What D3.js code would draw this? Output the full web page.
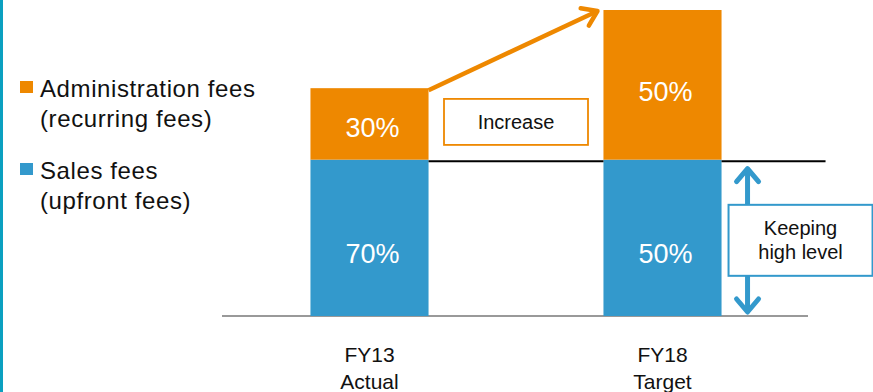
<!DOCTYPE html>
<html>
<head>
<meta charset="utf-8">
<script src="https://cdn.jsdelivr.net/npm/d3@7"></script>
<style>
  body { margin: 0; background: #fff; }
  svg { display: block; font-family: "Liberation Sans", Arial, sans-serif; }
</style>
</head>
<body>
<svg id="chart" width="873" height="392"></svg>
<script>
// chart data
var categories = ["FY13", "FY18"];
var subLabels = ["Actual", "Target"];
var salesHeight = [70, 70];   // bar heights as drawn (not proportional to %)
var adminHeight = [32, 67];
var salesLabels = ["70%", "50%"];
var adminLabels = ["30%", "50%"];
var legendNames = [["Administration fees", "(recurring fees)"], ["Sales fees", "(upfront fees)"]];

var ORANGE = "#ee8800", BLUE = "#3399cc";

var svg = d3.select("#chart");

var x = d3.scaleBand().domain(categories).range([223, 809])
    .paddingInner(0.597).paddingOuter(0.2985);
var y = d3.scaleLinear().domain([0, 137]).range([316, 10]);
var bw = x.bandwidth();

// left accent line
svg.append("rect").attr("x", 0).attr("y", 0).attr("width", 3).attr("height", 392).attr("fill", "#0aa0c0");

// baseline
svg.append("line")
    .attr("x1", x.range()[0] - 1).attr("x2", x.range()[1] - 1)
    .attr("y1", y(0)).attr("y2", y(0))
    .attr("stroke", "#999").attr("stroke-width", 2);

// bars
var g = svg.append("g");
categories.forEach(function(c, i) {
  var x0 = x(c);
  g.append("rect").attr("x", x0).attr("y", y(salesHeight[i]))
      .attr("width", bw).attr("height", y(0) - y(salesHeight[i])).attr("fill", BLUE);
  g.append("rect").attr("x", x0).attr("y", y(salesHeight[i] + adminHeight[i]))
      .attr("width", bw).attr("height", y(salesHeight[i]) - y(salesHeight[i] + adminHeight[i])).attr("fill", ORANGE);

  // segment labels
  var yb = y(0) + (y(salesHeight[i]) - y(0)) * 0.40;
  g.append("text").attr("x", x0 + bw / 2 + 3).attr("y", yb + 10)
      .attr("text-anchor", "middle").attr("fill", "#fff").attr("font-size", 27)
      .text(salesLabels[i]);
  var ya = y(salesHeight[i]) + (y(salesHeight[i] + adminHeight[i]) - y(salesHeight[i])) * 0.46;
  g.append("text").attr("x", x0 + bw / 2 + 3).attr("y", ya + 10)
      .attr("text-anchor", "middle").attr("fill", "#fff").attr("font-size", 27)
      .text(adminLabels[i]);

  // category labels
  g.append("text").attr("x", x0 + bw / 2).attr("y", 362)
      .attr("text-anchor", "middle").attr("fill", "#111").attr("font-size", 21).text(c);
  g.append("text").attr("x", x0 + bw / 2).attr("y", 389)
      .attr("text-anchor", "middle").attr("fill", "#111").attr("font-size", 21).text(subLabels[i]);
});

// black level lines
var lvl = y(salesHeight[0]) + 1.5;
svg.append("line").attr("x1", x(categories[0]) + bw).attr("x2", x(categories[1]))
    .attr("y1", lvl).attr("y2", lvl).attr("stroke", "#000").attr("stroke-width", 2);
svg.append("line").attr("x1", x(categories[1]) + bw).attr("x2", x(categories[1]) + bw + 104)
    .attr("y1", lvl).attr("y2", lvl).attr("stroke", "#000").attr("stroke-width", 2);

// orange increase arrow
var ax1 = x(categories[0]) + bw, ay1 = y(salesHeight[0] + adminHeight[0]) + 2;
var ax2 = x(categories[1]) - 6, ay2 = y(salesHeight[1] + adminHeight[1]) + 1;
var ang = Math.atan2(ay2 - ay1, ax2 - ax1);
function arm(a) { return [ax2 - 17 * Math.cos(ang + a), ay2 - 17 * Math.sin(ang + a)]; }
svg.append("line").attr("x1", ax1).attr("y1", ay1).attr("x2", ax2 - 2).attr("y2", ay2 + 1)
    .attr("stroke", ORANGE).attr("stroke-width", 4.5);
svg.append("path")
    .attr("d", d3.line()([arm(0.6), [ax2, ay2], arm(-0.6)]))
    .attr("fill", "none").attr("stroke", ORANGE).attr("stroke-width", 4.5)
    .attr("stroke-linecap", "round").attr("stroke-linejoin", "round");

// Increase box
var midGap = (x(categories[0]) + bw + x(categories[1])) / 2;
var incY = (y(salesHeight[0]) + y(salesHeight[0] + adminHeight[0])) / 2;
svg.append("rect").attr("x", midGap - 72).attr("y", incY - 25).attr("width", 144).attr("height", 46)
    .attr("fill", "#fff").attr("stroke", ORANGE).attr("stroke-width", 1.8);
svg.append("text").attr("x", midGap).attr("y", incY + 5).attr("text-anchor", "middle")
    .attr("font-size", 20).attr("fill", "#111").text("Increase");

// blue double arrow
var bx = x(categories[1]) + bw + 26;
var arrTop = y(salesHeight[1]) + 9, arrBot = y(0) - 4;
svg.append("line").attr("x1", bx).attr("x2", bx).attr("y1", arrTop + 2).attr("y2", arrBot - 2)
    .attr("stroke", BLUE).attr("stroke-width", 5);
svg.append("path").attr("d", d3.line()([[bx - 11, arrTop + 13], [bx, arrTop], [bx + 11, arrTop + 13]]))
    .attr("fill", "none").attr("stroke", BLUE).attr("stroke-width", 5)
    .attr("stroke-linecap", "round").attr("stroke-linejoin", "round");
svg.append("path").attr("d", d3.line()([[bx - 11, arrBot - 13], [bx, arrBot], [bx + 11, arrBot - 13]]))
    .attr("fill", "none").attr("stroke", BLUE).attr("stroke-width", 5)
    .attr("stroke-linecap", "round").attr("stroke-linejoin", "round");

// Keeping high level box
var kx = x(categories[1]) + bw + 7;
var ky = (y(salesHeight[1]) + y(0)) / 2 + 2;
svg.append("rect").attr("x", kx).attr("y", ky - 35).attr("width", 144).attr("height", 71)
    .attr("fill", "#fff").attr("stroke", BLUE).attr("stroke-width", 2);
svg.append("text").attr("x", kx + 72).attr("y", ky - 5).attr("text-anchor", "middle")
    .attr("font-size", 20).attr("fill", "#111").text("Keeping");
svg.append("text").attr("x", kx + 72).attr("y", ky + 19).attr("text-anchor", "middle")
    .attr("font-size", 20).attr("fill", "#111").text("high level");

// legend
var legColors = [ORANGE, BLUE];
var legTop = [81, 163];
legendNames.forEach(function(n, i) {
  svg.append("rect").attr("x", 20).attr("y", legTop[i]).attr("width", 13).attr("height", 12)
      .attr("fill", legColors[i]);
  svg.append("text").attr("x", 40).attr("y", legTop[i] + 16).attr("letter-spacing", 0.6)
      .attr("font-size", 24).attr("fill", "#111").text(n[0]);
  svg.append("text").attr("x", 40).attr("y", legTop[i] + 46).attr("letter-spacing", 0.6)
      .attr("font-size", 24).attr("fill", "#111").text(n[1]);
});
</script>
</body>
</html>
